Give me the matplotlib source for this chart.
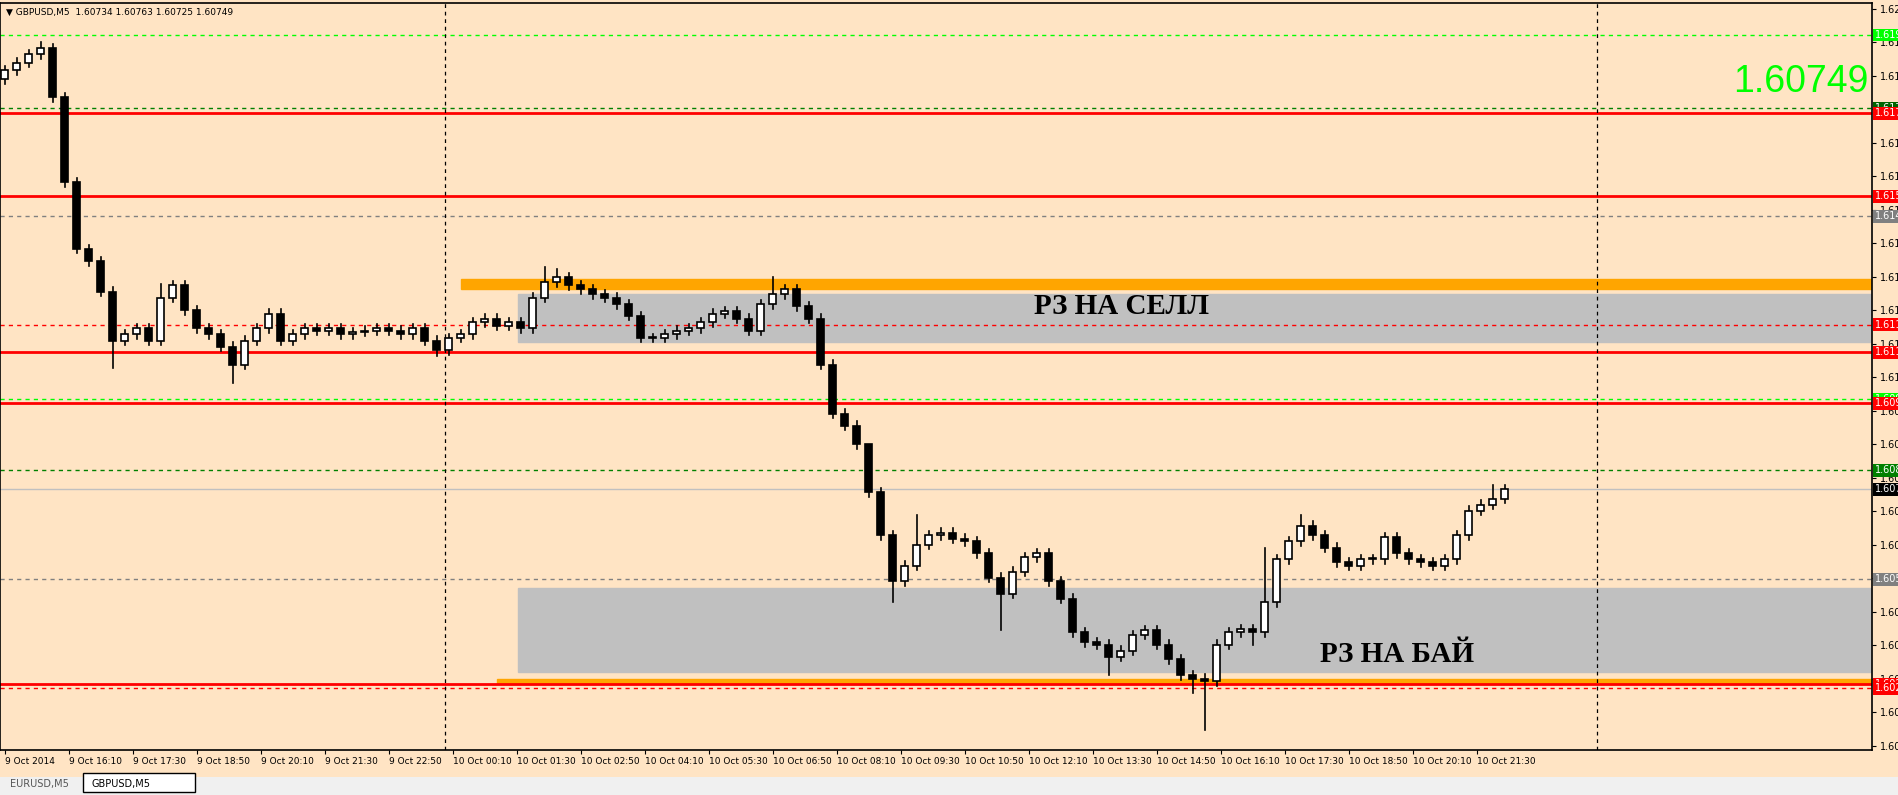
import numpy as np
import matplotlib.pyplot as plt
from matplotlib.patches import Rectangle
import matplotlib.transforms as mtransforms

# 15-minute candles, starting 9 Oct 14:50
closes = [1.61874, 1.61894, 1.61917, 1.61933, 1.61802, 1.61573, 1.61394, 1.61361, 1.61279, 1.61148,
          1.61165, 1.61181, 1.61148, 1.61263, 1.61296, 1.61230, 1.61181, 1.61165, 1.61132, 1.61083,
          1.61148, 1.61181, 1.61220, 1.61148, 1.61165, 1.61181, 1.61175, 1.61181, 1.61165, 1.61171,
          1.61175, 1.61181, 1.61175, 1.61165, 1.61181, 1.61148, 1.61122, 1.61155, 1.61165, 1.61197,
          1.61207, 1.61188, 1.61197, 1.61181, 1.61263, 1.61305, 1.61318, 1.61296, 1.61286, 1.61273,
          1.61263, 1.61246, 1.61214, 1.61155, 1.61155, 1.61165, 1.61175, 1.61181, 1.61197, 1.61220,
          1.61227, 1.61207, 1.61175, 1.61246, 1.61273, 1.61286, 1.61240, 1.61207, 1.61083, 1.60952,
          1.60919, 1.60870, 1.60740, 1.60625, 1.60501, 1.60543, 1.60599, 1.60625, 1.60632, 1.60615,
          1.60609, 1.60576, 1.60511, 1.60468, 1.60527, 1.60566, 1.60576, 1.60501, 1.60455, 1.60364,
          1.60337, 1.60331, 1.60298, 1.60315, 1.60357, 1.60370, 1.60331, 1.60292, 1.60249, 1.60239,
          1.60233, 1.60331, 1.60364, 1.60373, 1.60364, 1.60445, 1.60560, 1.60609, 1.60651, 1.60625,
          1.60592, 1.60553, 1.60543, 1.60560, 1.60560, 1.60619, 1.60576, 1.60560, 1.60553, 1.60543,
          1.60560, 1.60625, 1.60691, 1.60707, 1.60723, 1.60749]
first_open = 1.61850
# notable wick extremes (candle index -> price)
spike_highs = {3: 1.61950, 13: 1.61300, 45: 1.61345, 46: 1.61340, 64: 1.61318, 72: 1.60800,
               76: 1.60680, 105: 1.60590, 108: 1.60680, 124: 1.60760}
spike_lows = {9: 1.61073, 19: 1.61034, 36: 1.61106, 74: 1.60445, 83: 1.60370, 92: 1.60250,
              99: 1.60200, 100: 1.60102, 104: 1.60330}

time_labels = ["9 Oct 2014", "9 Oct 16:10", "9 Oct 17:30", "9 Oct 18:50", "9 Oct 20:10",
               "9 Oct 21:30", "9 Oct 22:50", "10 Oct 00:10", "10 Oct 01:30", "10 Oct 02:50",
               "10 Oct 04:10", "10 Oct 05:30", "10 Oct 06:50", "10 Oct 08:10", "10 Oct 09:30",
               "10 Oct 10:50", "10 Oct 12:10", "10 Oct 13:30", "10 Oct 14:50", "10 Oct 16:10",
               "10 Oct 17:30", "10 Oct 18:50", "10 Oct 20:10", "10 Oct 21:30"]

# horizontal levels: (price, color, style, width, label bg)
levels = [(1.61969, '#00ff00', '--', 1.0, '#00ff00'),
          (1.61773, '#008000', '--', 1.0, '#006400'),
          (1.61759, '#ff0000', '-', 2.0, '#ff0000'),
          (1.61536, '#ff0000', '-', 2.0, '#ff0000'),
          (1.61482, '#808080', '--', 1.0, '#808080'),
          (1.61190, '#ff0000', '--', 1.0, '#ff0000'),
          (1.61117, '#ff0000', '-', 2.0, '#ff0000'),
          (1.60991, '#00ff00', '--', 1.0, '#00ff00'),
          (1.60980, '#ff0000', '-', 2.0, '#ff0000'),
          (1.60800, '#008000', '--', 1.0, '#008000'),
          (1.60749, '#c0c0c0', '-', 1.0, '#000000'),
          (1.60507, '#808080', '--', 1.0, '#808080'),
          (1.60225, '#ff0000', '-', 2.0, '#ff0000'),
          (1.60214, '#ff0000', '--', 1.0, '#ff0000')]

bg = '#ffe4c4'
W, H = 1899, 795
fig = plt.figure(figsize=(W / 100, H / 100), dpi=100, facecolor=bg)
ax = fig.add_axes([0, 45 / H, 1872 / W, (750 - 3) / H], facecolor=bg)
ax.set_xlim(-0.4, 155.6)
ax.set_ylim(1.60048, 1.62055)

# zones
ax.add_patch(Rectangle((42.8, 1.61144), 200, 1.61273 - 1.61144, color='#c0c0c0', zorder=1))
ax.add_patch(Rectangle((42.8, 1.60257), 200, 1.60483 - 1.60257, color='#c0c0c0', zorder=1))
ax.add_patch(Rectangle((38.0, 1.61286), 200, 1.61313 - 1.61286, color='#ffa500', zorder=1))
ax.add_patch(Rectangle((41.0, 1.60228), 200, 1.60239 - 1.60228, color='#ffa500', zorder=1))

for p, c, ls, lw, lb in levels:
    ax.axhline(p, color=c, ls=ls, lw=lw, zorder=2, dashes=(3, 3) if ls == '--' else (None, None))
    ax.annotate(f"{p:.5f}", xy=(1.0, p), xycoords=('axes fraction', 'data'), xytext=(2, 0),
                textcoords='offset points', va='center', ha='left', fontsize=7, color='white',
                bbox=dict(boxstyle='square,pad=0.15', fc=lb, ec='none'), annotation_clip=False, zorder=5)

for xv in [36.67, 132.67]:
    ax.axvline(xv, color='black', lw=0.9, dashes=(3, 3), zorder=2)

# candles
opens = [first_open] + closes[:-1]
for i, (o, c) in enumerate(zip(opens, closes)):
    hi = spike_highs.get(i, max(o, c) + 0.00012)
    lo = spike_lows.get(i, min(o, c) - 0.00012)
    ax.plot([i, i], [lo, hi], color='black', lw=1.2, zorder=3)
    bull = c >= o
    h = max(abs(c - o), 0.00003)
    ax.add_patch(Rectangle((i - 0.3, min(o, c)), 0.6, h, fc='white' if bull else 'black',
                           ec='black', lw=1.2, zorder=4))

ax.text(1122 / 1872, 1 - (307 - 3) / 747, "РЗ НА СЕЛЛ", transform=ax.transAxes, ha='center',
        va='center', fontsize=21, fontweight='bold', family='Liberation Serif', zorder=6)
ax.text(1397 / 1872, 1 - (654 - 3) / 747, "РЗ НА БАЙ", transform=ax.transAxes, ha='center',
        va='center', fontsize=21, fontweight='bold', family='Liberation Serif', zorder=6)
ax.text(0.998, 1 - (82 - 3) / 747, f"{closes[-1]:.5f}", transform=ax.transAxes, ha='right',
        va='center', fontsize=27, color='#00ff00', family='Liberation Sans', zorder=6)
ax.text(0.003, 0.993, "▼ GBPUSD,M5  1.60734 1.60763 1.60725 1.60749", transform=ax.transAxes,
        ha='left', va='top', fontsize=6.5, zorder=6)

# axes
ax.yaxis.tick_right()
yt = 1.60059 + 0.0009 * np.arange(23)
ax.set_yticks(yt)
ax.set_yticklabels([f"{v:.5f}" for v in yt], fontsize=7)
ax.tick_params(axis='y', length=3, pad=3)
xt = np.arange(len(time_labels)) * 16 / 3
ax.set_xticks(xt)
ax.set_xticklabels(time_labels, fontsize=6.5, ha='left')
ax.tick_params(axis='x', length=3, pad=2)
for s in ax.spines.values():
    s.set_linewidth(1.2)

# bottom tab bar
fig.patches.append(Rectangle((0, 0), 1, 18 / H, transform=fig.transFigure, fc='#f0f0f0', ec='none'))
fig.patches.append(Rectangle((83 / W, 3 / H), 112 / W, 19 / H, transform=fig.transFigure,
                             fc='white', ec='black', lw=1))
fig.text(10 / W, 11 / H, "EURUSD,M5", fontsize=7, color='#555555', va='center')
fig.text(92 / W, 11 / H, "GBPUSD,M5", fontsize=7, color='black', va='center')

fig.savefig('out.png', dpi=100, facecolor=bg)
